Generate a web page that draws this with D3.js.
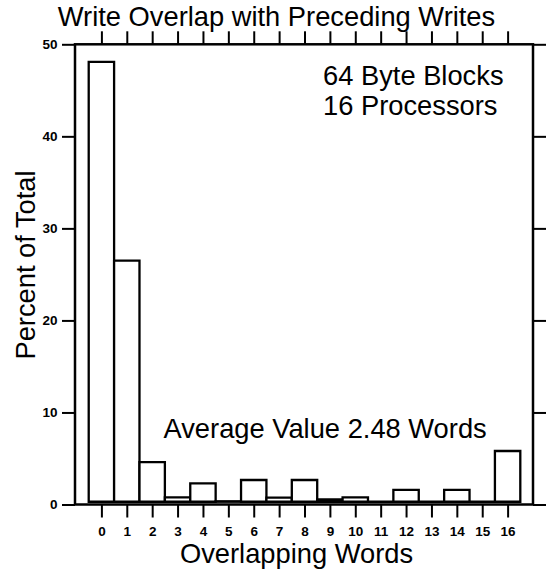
<!DOCTYPE html>
<html>
<head>
<meta charset="utf-8">
<script src="https://cdn.jsdelivr.net/npm/d3@7/dist/d3.min.js"></script>
<style>
  html, body { margin: 0; padding: 0; background: #fff; }
  svg { display: block; }
  text { font-family: "Liberation Sans", Arial, Helvetica, sans-serif; fill: #000; }
</style>
</head>
<body>
<svg id="chart" width="546" height="573"></svg>
<script>
// ---- data ----
const categories = [0, 1, 2, 3, 4, 5, 6, 7, 8, 9, 10, 11, 12, 13, 14, 15, 16];
const percentValues = [48.1, 26.5, 4.6, 0.78, 2.3, 0.35, 2.66, 0.74, 2.66, 0.56, 0.78, 0, 1.58, 0, 1.58, 0, 5.81];
const yTickValues = [0, 10, 20, 30, 40, 50];
const titleText = "Write Overlap with Preceding Writes";
const xAxisTitle = "Overlapping Words";
const yAxisTitle = "Percent of Total";
const noteLines = ["64 Byte Blocks", "16 Processors"];
const averageText = "Average Value 2.48 Words";
const barBase = 0.3;

// ---- layout ----
const plot = { left: 75, right: 533, top: 44.3, bottom: 504.5 };
const bigFont = 27.3;
const tickFont = 13.5;

const svg = d3.select("#chart");

const x = d3.scaleLinear().domain([-1.04, 17]).range([plot.left, plot.right]);
const y = d3.scaleLinear().domain([0, 50]).range([plot.bottom, plot.top]);

// bars
svg.append("g").selectAll("path").data(categories).join("path")
  .attr("d", (c, i) => {
    const v = Math.max(percentValues[i], barBase);
    const x0 = x(c - 0.5), x1 = x(c + 0.5);
    const yb = y(barBase), yt = y(v);
    return `M${x0},${yb}V${yt}H${x1}V${yb}Z`;
  })
  .attr("fill", "#fff")
  .attr("stroke", "#000")
  .attr("stroke-width", 2.3);

// axes
function styleAxis(g) {
  g.select(".domain").remove();
  g.selectAll(".tick line").attr("stroke", "#000").attr("stroke-width", 2);
}
function styleLabels(g) {
  g.selectAll("text").attr("font-size", tickFont).attr("font-weight", "bold")
    .attr("font-family", '"Liberation Sans", Arial, sans-serif').attr("fill", "#000");
}
const bottomAxis = svg.append("g")
  .attr("transform", `translate(0,${plot.bottom})`)
  .call(d3.axisBottom(x).tickValues(categories).tickSize(13).tickPadding(8.5).tickFormat(d3.format("d")));
styleAxis(bottomAxis); styleLabels(bottomAxis);

const topAxis = svg.append("g")
  .attr("transform", `translate(0,${plot.top})`)
  .call(d3.axisTop(x).tickValues(categories).tickSize(13).tickFormat(""));
styleAxis(topAxis);

const leftAxis = svg.append("g")
  .attr("transform", `translate(${plot.left},0)`)
  .call(d3.axisLeft(y).tickValues(yTickValues).tickSize(13).tickPadding(4.5).tickFormat(d3.format("d")));
styleAxis(leftAxis); styleLabels(leftAxis);

const rightAxis = svg.append("g")
  .attr("transform", `translate(${plot.right},0)`)
  .call(d3.axisRight(y).tickValues(yTickValues).tickSize(13).tickFormat(""));
styleAxis(rightAxis);

// frame
svg.append("rect")
  .attr("x", plot.left).attr("y", plot.top)
  .attr("width", plot.right - plot.left).attr("height", plot.bottom - plot.top)
  .attr("fill", "none").attr("stroke", "#000").attr("stroke-width", 2.5);

// texts
svg.append("text").attr("x", 276.5).attr("y", 25.5).attr("text-anchor", "middle")
  .attr("font-size", bigFont).text(titleText);

svg.append("text").attr("x", 296.5).attr("y", 562.5).attr("text-anchor", "middle")
  .attr("font-size", bigFont).text(xAxisTitle);

svg.append("text").attr("transform", "translate(35,265) rotate(-90)")
  .attr("text-anchor", "middle").attr("font-size", bigFont).text(yAxisTitle);

svg.append("g").selectAll("text").data(noteLines).join("text")
  .attr("x", 323).attr("y", (d, i) => 85 + i * 30)
  .attr("font-size", bigFont).text(d => d);

svg.append("text").attr("x", 163.5).attr("y", 437.5)
  .attr("font-size", bigFont).text(averageText);
</script>
</body>
</html>
